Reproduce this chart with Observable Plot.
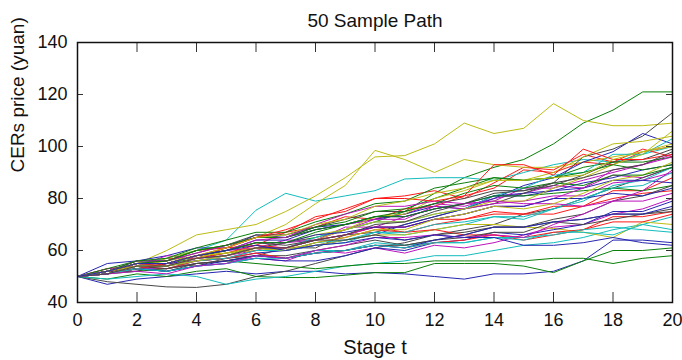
<!DOCTYPE html>
<html>
<head>
<meta charset="utf-8">
<script src="https://cdn.jsdelivr.net/npm/d3@7"></script>
<script src="https://cdn.jsdelivr.net/npm/@observablehq/plot@0.6"></script>
<style>
  html, body { margin: 0; padding: 0; background: #fff; }
  #chart svg { font-family: "Liberation Sans", Arial, Helvetica, sans-serif; }
</style>
</head>
<body>
<div id="chart"></div>
<script>
// Stages (x categories) and tick labels
const stages = [0,1,2,3,4,5,6,7,8,9,10,11,12,13,14,15,16,17,18,19,20];
const xTicks = [0,2,4,6,8,10,12,14,16,18,20];
const yTicks = [40,60,80,100,120,140];
// classic MATLAB-like line color order
const lineColors = ["#2626b0","#0a800a","#ff1a1a","#14bcbc","#bc14bc","#bcbc14","#474747"];

// 50 sample paths of CERs price (yuan)
const path00 = [50,47,49,50,51,52,51,52,52,51,51.5,51,50,49,51,51,52,56,64,64,63];
const path01 = [50,52,53,55,57,59,61,63,65,68,71,75,82,88,92,95,101,109,114,121,121];
const path02 = [50,53,54,57,57,61,62,67,69,73,72,76,77,81,84,91,90,94,93,98,100];
const path03 = [50,52,55,57,60,64,75.5,82,79,81,83,87.5,88,88,87,90,93,95,94,97,100];
const path04 = [50,52,52,55,56,58,60,63,64,68,72,74,78,77,80,82,85,84,89,88,92];
const path05 = [50,52,55,60,66,68,70,75,81,88,96,96.5,101,109,105,107,116.5,110,108,108,109];
const path06 = [50,48,47,46,45.8,47,50,52,55,58,61,63,66,68,70,74,76,80,84,88,92];
const path07 = [50,55,56,58,61,61,66,65,69,70,72,74,77,76,81,82,83,86,88,91,93];
const path08 = [50,49,51,50,52,53,50,49.6,49.6,50.5,51.5,51.5,55,55,55,54,51.5,56,60,60,61];
const path09 = [50,52,55,56,60,61,65,67,73,75,80,81,83,80,86,92,91,97,94,99,96];
const path10 = [50,49,50,51,50,47,49,50,52,54,55,56,58,58,60,62,63,65,68,70,73];
const path11 = [50,53,54,58,57,60,61,64,64,69,69,73,76,78,79,84,84,87,90,93,97];
const path12 = [50,51,54,57,60,62,65,70,78,85,98.5,95,90,95,93,92,92,94,96,98,100];
const path13 = [50,52,52,55,54,57,58,61,61,66,67,70,73,76,78,82,86,96,99,104,113];
const path14 = [50,52,53,55,56,57,59,60,62,64,66,70,73,76,80,85,88,94,98,105,101];
const path15 = [50,51,52,53,55,56,55,54,53,54,55,55,56,56,56,56,57,57,55,57,58];
const path16 = [50,52,55,54,57,59,62,61,64,66,69,67,70,72,75,74,74,77,83,83,88];
const path17 = [50,51,53,53,56,58,61,60,62,63,67,66,68,70,73,72,76,79,85,87,92];
const path18 = [50,51,53,53,55,56,57,56,60,59,61,59,62,61,63,66,69,70,74,76,80];
const path19 = [50,52,54,56,58,59,60,61,62,64,66,66,68,70,70,69,68.5,67,65,71,70];
const path20 = [50,52,56,56,59,62,66,66,69,72,75,75,78,80,83,83,85,89,94,95,99];
const path21 = [50,51,53,52,54,55,57,56,56,58,61,60,63,64,67,66,68,70,75,75,79];
const path22 = [50,53,56,56,60,62,65,65,69,71,75,76,80,84,88,87,88,92,94,94,96];
const path23 = [50,51,54,53,56,57,60,60,63,65,68,67,68,66,66,64,66,68,73,73,75];
const path24 = [50,52,55,54,57,58,61,61,65,68,71,71,74,76,81,84,89,90,97,97,103];
const path25 = [50,52,56,56,59,62,65,65,68,70,72,72,77,76,78,79,81,81,86,87,90];
const path26 = [50,52,55,55,58,59,61,61,64,68,73,74,80,83,87,87,90,96,101,102,104];
const path27 = [50,51,54,53,55,56,58,58,60,62,64,62,64,65,67,67,71,70,72,74,75];
const path28 = [50,52,55,55,58,60,64,64,68,70,73,73,76,78,81,81,83,84,87,87,86];
const path29 = [50,52,55,56,60,62,65,65,68,70,73,73,76,78,81,81,82,83,84,83,85];
const path30 = [50,52,54,54,57,58,61,61,64,66,69,69,72,72,74,74,77,77,80,82,83];
const path31 = [50,51,53,52,54,55,58,57,60,60,63,62,63,63,65,64,67,67,66,70,68];
const path32 = [50,51,54,54,57,58,61,61,64,66,69,69,72,74,77,77,80,84,91,93,96];
const path33 = [50,52,54,54,57,60,63,63,66,68,71,71,74,76,79,79,84,88,93,97,106];
const path34 = [50,51,53,52,55,56,58,57,59,60,62,62,64,66,69,69,72,74,79,81,85];
const path35 = [50,52,55,55,58,60,63,63,66,67,69,69,72,74,77,77,80,80,82,81,84];
const path36 = [50,52,56,57,61,64,67,67,71,74,78,79,84,86,88,87,88,90,93,91,93];
const path37 = [50,52,55,54,56,57,59,57,59,60,62,61,63,64,66,65,67,68,71,71,74];
const path38 = [50,51,54,54,56,57,60,60,63,64,67,67,70,71,73,73,76,80,84,85,90];
const path39 = [50,52,55,55,58,60,64,65,70,74,77,77,79,78,79,78,78,77,79,79,82];
const path40 = [50,51,54,54,56,58,61,60,63,65,68,68,72,74,77,76,78,82,87,89,94];
const path41 = [50,52,55,55,58,60,63,62,64,64,66,64,66,67,69,69,71,72,74,74,76];
const path42 = [50,51,53,52,54,56,58,57,59,60,62,61,64,66,69,69,71,72,74,74,77];
const path43 = [50,52,55,55,58,60,63,63,67,70,73,75,78,82,85,84,86,85,89,89,92];
const path44 = [50,51,53,55,58,61,65,68,72,76,80,80,79,81,93,93,89,99,95,95,97];
const path45 = [50,51,53,52,54,55,57,57,59,60,62,61,63,63,65,65,66,68,69,68,67];
const path46 = [50,51,52,51,54,55,58,57,60,62,65,65,66,65,66,65,70,74,79,83,91];
const path47 = [50,52,55,55,58,61,65,66,70,72,77,79,82,84,87,87,88,89,95,98,101];
const path48 = [50,51,54,54,57,58,61,61,64,66,70,71,75,78,82,83,86,88,91,93,98];
const path49 = [50,52,55,55,58,60,62,60,62,63,65,64,66,65,65,62,62,63,65,63,62];

const allPaths = [path00,path01,path02,path03,path04,path05,path06,path07,path08,path09,
  path10,path11,path12,path13,path14,path15,path16,path17,path18,path19,
  path20,path21,path22,path23,path24,path25,path26,path27,path28,path29,
  path30,path31,path32,path33,path34,path35,path36,path37,path38,path39,
  path40,path41,path42,path43,path44,path45,path46,path47,path48,path49];

const rows = [];
allPaths.forEach((p, i) => {
  p.forEach((v, j) => rows.push({stage: stages[j], price: v, path: i, color: lineColors[i % lineColors.length]}));
});

const xTickLen = 10 / 2.6;    // in y units (10px)
const yTickLen = 6 / 29.75;   // in x units (6px)

const chart = Plot.plot({
  width: 682,
  height: 360,
  marginLeft: 77,
  marginRight: 10,
  marginTop: 42,
  marginBottom: 58,
  style: {fontFamily: '"Liberation Sans", Arial, Helvetica, sans-serif', background: "#fff"},
  x: {domain: [0, 20], label: null},
  y: {domain: [40, 140], label: null},
  marks: [
    Plot.line(rows, {x: "stage", y: "price", z: "path", stroke: "color", strokeWidth: 1}),
    // inward ticks
    Plot.ruleX(xTicks, {x: d => d, y1: 40, y2: 40 + xTickLen, stroke: "#333", strokeWidth: 1}),
    Plot.ruleX(xTicks, {x: d => d, y1: 140 - xTickLen, y2: 140, stroke: "#333", strokeWidth: 1}),
    Plot.ruleY(yTicks, {y: d => d, x1: 0, x2: yTickLen, stroke: "#333", strokeWidth: 1}),
    Plot.ruleY(yTicks, {y: d => d, x1: 20 - yTickLen, x2: 20, stroke: "#333", strokeWidth: 1}),
    Plot.frame({stroke: "#111", strokeWidth: 1.5}),
    Plot.axisX(xTicks, {tickSize: 0, tickPadding: 11, fontSize: 18, label: null, fill: "#111"}),
    Plot.axisY(yTicks, {tickSize: 0, tickPadding: 10, fontSize: 18, label: null, fill: "#111"}),
    Plot.text(["Stage t"], {frameAnchor: "bottom", dy: 51, fontSize: 20, fill: "#111"}),
    Plot.text(["CERs price (yuan)"], {frameAnchor: "left", dx: -60, rotate: -90, fontSize: 19, fill: "#111"}),
    Plot.text(["50 Sample Path"], {frameAnchor: "top", dy: -29, fontSize: 19, fill: "#111"})
  ]
});
document.getElementById("chart").appendChild(chart);
</script>
</body>
</html>
